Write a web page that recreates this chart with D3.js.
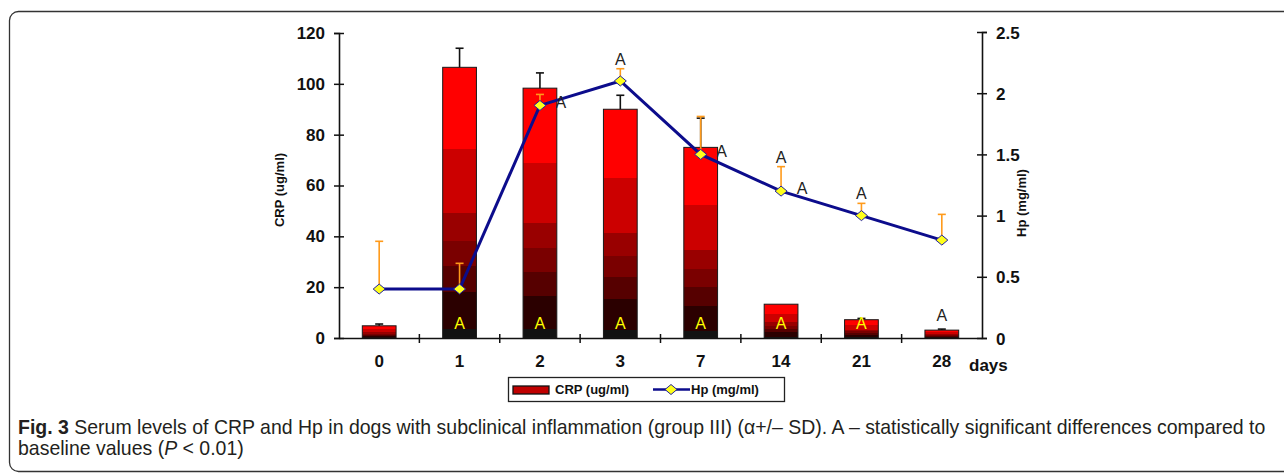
<!DOCTYPE html>
<html lang="en">
<head>
<meta charset="UTF-8">
<title>CRP and Hp</title>
<style>
  body { margin: 0; background: #fff; }
  svg text { font-family: "Liberation Sans", Arial, sans-serif; }
</style>
</head>
<body>
<svg width="1284" height="474"></svg>
<script src="https://d3js.org/d3.v7.min.js"></script>
<script>
// data
var days = ['0', '1', '2', '3', '7', '14', '21', '28'];
var crp = [4.8, 106.5, 98.3, 90, 75, 13.3, 7.2, 3.1];
var crpSD = [0.7, 7.5, 6, 5.5, 11.5, 0, 0.5, 0.4];
var hp = [0.4, 0.4, 1.9, 2.1, 1.5, 1.2, 1.0, 0.8];
var hpSD = [0.39, 0.21, 0.09, 0.1, 0.31, 0.2, 0.1, 0.21];
var crpTicks = [0, 20, 40, 60, 80, 100, 120];
var hpTicks = [0, 0.5, 1, 1.5, 2, 2.5];
var crpSigIn = ['1', '2', '3', '7', '14', '21'];   // yellow A inside bar
var crpSigTop = ['28'];                             // black A above bar
var hpSigTop = ['3', '14', '21'];                   // black A above Hp error bar
var hpSigRight = ['2', '7', '14'];                  // black A right of Hp point

var svg = d3.select('svg');

// frame
svg.append('rect')
  .attr('x', 9.5).attr('y', 11.5).attr('width', 1320).attr('height', 460)
  .attr('rx', 9).attr('fill', 'none').attr('stroke', '#333').attr('stroke-width', 1.3);

var x = d3.scaleBand().domain(days).range([339, 982]);
var yL = d3.scaleLinear().domain([0, 120]).range([338, 33]);
var yR = d3.scaleLinear().domain([0, 2.5]).range([338, 32]);
var barW = x.bandwidth() * 0.42;
var cx = function(d) { return x(d) + x.bandwidth() / 2; };

// stepped gradient of the bars
var bands = [
  [0, '#ff0000'], [0.30, '#cc0000'], [0.54, '#990000'], [0.64, '#7a0000'],
  [0.735, '#560000'], [0.83, '#2b0000'], [0.965, '#121212']
];
var grad = svg.append('defs').append('linearGradient')
  .attr('id', 'barfill').attr('x1', 0).attr('y1', 0).attr('x2', 0).attr('y2', 1);
bands.forEach(function(b, i) {
  var end = i < bands.length - 1 ? bands[i + 1][0] : 1;
  grad.append('stop').attr('offset', b[0]).attr('stop-color', b[1]);
  grad.append('stop').attr('offset', end).attr('stop-color', b[1]);
});

// bars
svg.append('g').selectAll('rect')
  .data(crp).enter().append('rect')
  .attr('x', function(d, i) { return cx(days[i]) - barW / 2; })
  .attr('y', function(d) { return yL(d); })
  .attr('width', barW)
  .attr('height', function(d) { return yL(0) - yL(d); })
  .attr('fill', 'url(#barfill)')
  .attr('stroke', '#1a1a1a').attr('stroke-width', 1);

// CRP error bars
var eb = svg.append('g').attr('stroke', '#111').attr('stroke-width', 1.6);
crp.forEach(function(d, i) {
  if (!crpSD[i]) return;
  var c = cx(days[i]);
  eb.append('line').attr('x1', c).attr('x2', c).attr('y1', yL(d)).attr('y2', yL(d + crpSD[i]));
  eb.append('line').attr('x1', c - 4).attr('x2', c + 4).attr('y1', yL(d + crpSD[i])).attr('y2', yL(d + crpSD[i]));
});

// axes
var axL = svg.append('g').attr('transform', 'translate(339,0)')
  .call(d3.axisLeft(yL).tickValues(crpTicks).tickSize(5).tickPadding(9));
axL.selectAll('.tick line').attr('x2', -5).attr('x1', 5);

var axR = svg.append('g').attr('transform', 'translate(982,0)')
  .call(d3.axisRight(yR).tickValues(hpTicks).tickSize(5).tickPadding(9)
    .tickFormat(d3.format('')));
axR.selectAll('.tick line').attr('x1', -5);

var axB = svg.append('g').attr('transform', 'translate(0,338)')
  .call(d3.axisBottom(x).tickSize(0).tickPadding(17));
axB.selectAll('.tick').filter(function(d, i) { return i > 0; })
  .append('line')
  .attr('x1', -x.bandwidth() / 2).attr('x2', -x.bandwidth() / 2)
  .attr('y1', -4).attr('y2', 5).attr('stroke', '#111').attr('stroke-width', 1.5);

[axL, axR, axB].forEach(function(a) {
  a.attr('font-size', null).attr('font-family', null);
  a.select('.domain').attr('stroke', '#111').attr('stroke-width', 1.6);
  a.selectAll('.tick line').attr('stroke', '#111').attr('stroke-width', 1.5);
  a.selectAll('text').attr('fill', '#111').style('font-size', '17px').style('font-weight', 'bold');
});
axR.selectAll('text').attr('dy', '0.36em');

svg.append('text').attr('x', 969).attr('y', 371)
  .style('font-size', '17px').style('font-weight', 'bold').attr('fill', '#111').text('days');

svg.append('text').attr('transform', 'translate(284,190) rotate(-90)')
  .attr('text-anchor', 'middle').style('font-size', '13px').style('font-weight', 'bold')
  .attr('fill', '#111').text('CRP (ug/ml)');
svg.append('text').attr('transform', 'translate(1026,203) rotate(-90)')
  .attr('text-anchor', 'middle').style('font-size', '13px').style('font-weight', 'bold')
  .attr('fill', '#111').text('Hp (mg/ml)');

// Hp error bars
var ho = svg.append('g').attr('stroke', '#ff9a1a').attr('stroke-width', 1.6);
hp.forEach(function(d, i) {
  var c = cx(days[i]);
  ho.append('line').attr('x1', c).attr('x2', c).attr('y1', yR(d)).attr('y2', yR(d + hpSD[i]));
  ho.append('line').attr('x1', c - 4).attr('x2', c + 4).attr('y1', yR(d + hpSD[i])).attr('y2', yR(d + hpSD[i]));
});

// Hp line
var line = d3.line()
  .x(function(d, i) { return cx(days[i]); })
  .y(function(d) { return yR(d); });
svg.append('path').datum(hp).attr('d', line)
  .attr('fill', 'none').attr('stroke', '#0c0c8c').attr('stroke-width', 3);

var diamond = 'M0,-5L6,0L0,5L-6,0Z';
svg.append('g').selectAll('path')
  .data(hp).enter().append('path')
  .attr('d', diamond)
  .attr('transform', function(d, i) { return 'translate(' + cx(days[i]) + ',' + yR(d) + ')'; })
  .attr('fill', '#ffff1a').attr('stroke', '#2020a0').attr('stroke-width', 1);

// significance marks
var sig = svg.append('g').style('font-size', '16px').attr('text-anchor', 'middle');
crpSigIn.forEach(function(k) {
  sig.append('text').attr('x', cx(k)).attr('y', yL(0) - 9).attr('fill', '#ffff00').text('A');
});
crpSigTop.forEach(function(k) {
  var i = days.indexOf(k);
  sig.append('text').attr('x', cx(k)).attr('y', yL(crp[i] + crpSD[i]) - 8).attr('fill', '#222').text('A');
});
hpSigTop.forEach(function(k) {
  var i = days.indexOf(k);
  sig.append('text').attr('x', cx(k)).attr('y', yR(hp[i] + hpSD[i]) - 4).attr('fill', '#222').text('A');
});
hpSigRight.forEach(function(k) {
  var i = days.indexOf(k);
  sig.append('text').attr('x', cx(k) + 21).attr('y', yR(hp[i]) + 3).attr('fill', '#222').text('A');
});

// legend
var lg = svg.append('g');
lg.append('rect').attr('x', 508.5).attr('y', 377.5).attr('width', 276).attr('height', 24)
  .attr('fill', '#fff').attr('stroke', '#222').attr('stroke-width', 1.3);
lg.append('rect').attr('x', 513).attr('y', 386).attr('width', 36).attr('height', 8)
  .attr('fill', '#c00000').attr('stroke', '#111').attr('stroke-width', 1.3);
lg.append('text').attr('x', 555).attr('y', 394).style('font-size', '13px').style('font-weight', 'bold')
  .attr('fill', '#111').text('CRP (ug/ml)');
lg.append('line').attr('x1', 653).attr('x2', 690).attr('y1', 389.5).attr('y2', 389.5)
  .attr('stroke', '#0c0c8c').attr('stroke-width', 2.5);
lg.append('path').attr('d', diamond).attr('transform', 'translate(671,389.5)')
  .attr('fill', '#ffff1a').attr('stroke', '#2020a0').attr('stroke-width', 1);
lg.append('text').attr('x', 691).attr('y', 394).style('font-size', '13px').style('font-weight', 'bold')
  .attr('fill', '#111').text('Hp (mg/ml)');

// caption: condensed look made by squeezing the text horizontally
var cap = svg.append('g').attr('fill', '#231f20')
  .style('font-family', '"Open Sans", "Liberation Sans", sans-serif').style('font-size', '20px');
var t1 = cap.append('text').attr('x', 0).attr('y', 0);
t1.append('tspan').style('font-weight', 'bold').text('Fig. 3');
t1.append('tspan').text(' Serum levels of CRP and Hp in dogs with subclinical inflammation (group III) (α+/\u2013 SD). A \u2013 statistically significant differences compared to');
var t2 = cap.append('text').attr('x', 0).attr('y', 21);
t2.append('tspan').text('baseline values (');
t2.append('tspan').style('font-style', 'italic').text('P');
t2.append('tspan').text(' < 0.01)');
var sx = 1248 / t1.node().getComputedTextLength();
cap.attr('transform', 'translate(18,434) scale(' + sx + ',1)');
</script>
</body>
</html>
